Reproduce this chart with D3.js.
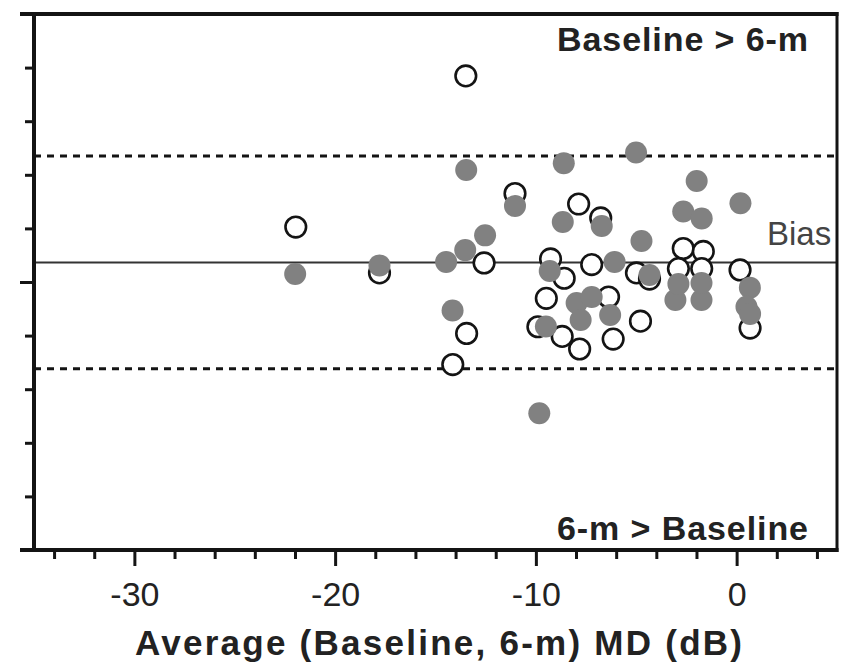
<!DOCTYPE html>
<html>
<head>
<meta charset="utf-8">
<script src="https://cdn.jsdelivr.net/npm/d3@7"></script>
<style>
  html, body { margin: 0; padding: 0; background: #fff; }
  svg { display: block; }
</style>
</head>
<body>
<svg id="chart" width="841" height="668"></svg>
<script>
// ---- data (x = average MD in dB, y = difference) ----
const openX = [-13.49, -21.96, -17.79, -12.58, -13.45, -14.14, -11.04, -7.87, -9.27, -8.59, -9.48, -9.90, -8.69, -7.82, -7.22, -6.38, -6.15, -4.79, -6.77, -4.99, -4.34, -2.66, -1.66, -2.90, -1.74, 0.17, 0.67];
const openY = [7.69, 2.05, 0.34, 0.71, -1.92, -3.08, 3.30, 2.91, 0.86, 0.14, -0.61, -1.67, -2.03, -2.50, 0.65, -0.56, -2.13, -1.46, 2.39, 0.34, 0.11, 1.25, 1.14, 0.50, 0.50, 0.45, -1.72];
const filledX = [-21.99, -17.79, -14.47, -13.52, -12.53, -13.47, -8.61, -11.04, -5.01, -8.66, -6.72, -4.74, -1.99, -2.66, -1.74, 0.19, -9.83, -14.15, -9.31, -7.97, -7.22, -7.77, -6.30, -9.50, -6.08, -4.34, -3.05, -1.75, -2.90, -1.75, 0.66, 0.49, 0.67];
const filledY = [0.30, 0.62, 0.75, 1.19, 1.74, 4.18, 4.43, 2.84, 4.83, 2.24, 2.09, 1.53, 3.77, 2.63, 2.37, 2.94, -4.90, -1.06, 0.41, -0.78, -0.56, -1.42, -1.23, -1.66, 0.75, 0.26, -0.67, -0.67, -0.07, -0.04, -0.21, -0.92, -1.19];
const bias = 0.73;
const upperLoA = 4.70;
const lowerLoA = -3.24;
const xMajorTicks = [-30, -20, -10, 0];
const xMinorTicks = [-34, -32, -28, -26, -24, -22, -18, -16, -14, -12, -8, -6, -4, -2, 2, 4];
const yMajorTicks = [-10, 0, 10];
const yMinorTicks = [-8, -6, -4, -2, 2, 4, 6, 8];
const xTitle = "Average (Baseline, 6-m) MD (dB)";
const topNote = "Baseline > 6-m";
const bottomNote = "6-m > Baseline";
const biasLabel = "Bias";

// ---- layout ----
const svg = d3.select("#chart");
const x = d3.scaleLinear().domain([-35, 5]).range([34, 837]);
const y = d3.scaleLinear().domain([-10, 10]).range([550, 14]);
const FONT = "'Liberation Sans', Arial, Helvetica, sans-serif";
const INK = "#141414";

// reference lines
svg.append("line")
  .attr("x1", x(-35)).attr("x2", x(5))
  .attr("y1", y(bias)).attr("y2", y(bias))
  .attr("stroke", "#333").attr("stroke-width", 2);
[upperLoA, lowerLoA].forEach(v => {
  svg.append("line")
    .attr("x1", x(-35)).attr("x2", x(5))
    .attr("y1", y(v)).attr("y2", y(v))
    .attr("stroke", INK).attr("stroke-width", 3)
    .attr("stroke-dasharray", "7,6");
});

// points: open first, filled on top
svg.append("g").selectAll("circle")
  .data(openX.map((v, i) => [v, openY[i]]))
  .join("circle")
  .attr("cx", d => x(d[0])).attr("cy", d => y(d[1]))
  .attr("r", 10.3)
  .attr("fill", "#fff").attr("stroke", INK).attr("stroke-width", 2.6);

svg.append("g").selectAll("circle")
  .data(filledX.map((v, i) => [v, filledY[i]]))
  .join("circle")
  .attr("cx", d => x(d[0])).attr("cy", d => y(d[1]))
  .attr("r", 11)
  .attr("fill", "#818181");

// axes
function styleAxis(g) {
  g.select(".domain").remove();
  g.selectAll(".tick line").attr("stroke", INK).attr("stroke-width", 3);
}
const gxMinor = svg.append("g").attr("transform", `translate(0,${y(-10)})`)
  .call(d3.axisBottom(x).tickValues(xMinorTicks).tickSize(9).tickFormat(""));
styleAxis(gxMinor);
const gxMajor = svg.append("g").attr("transform", `translate(0,${y(-10)})`)
  .call(d3.axisBottom(x).tickValues(xMajorTicks).tickSize(16).tickPadding(16)
    .tickFormat(d3.format("d")));
styleAxis(gxMajor);
gxMajor.selectAll(".tick text")
  .attr("font-family", FONT).attr("font-size", 34).attr("fill", "#222")
  .text(d => String(d).replace("\u2212", "-"));

const gyMinor = svg.append("g").attr("transform", `translate(${x(-35)},0)`)
  .call(d3.axisLeft(y).tickValues(yMinorTicks).tickSize(9).tickFormat(""));
styleAxis(gyMinor);
const gyMajor = svg.append("g").attr("transform", `translate(${x(-35)},0)`)
  .call(d3.axisLeft(y).tickValues(yMajorTicks).tickSize(14).tickFormat(""));
styleAxis(gyMajor);

// frame
svg.append("line").attr("x1", x(-35) - 14).attr("x2", x(5) + 1.5)
  .attr("y1", y(10)).attr("y2", y(10)).attr("stroke", INK).attr("stroke-width", 4);
svg.append("line").attr("x1", x(-35) - 14).attr("x2", x(5) + 1.5)
  .attr("y1", y(-10)).attr("y2", y(-10)).attr("stroke", INK).attr("stroke-width", 4);
svg.append("line").attr("x1", x(-35)).attr("x2", x(-35))
  .attr("y1", y(10) - 2).attr("y2", y(-10) + 2).attr("stroke", INK).attr("stroke-width", 4);
svg.append("line").attr("x1", x(5)).attr("x2", x(5))
  .attr("y1", y(10) - 2).attr("y2", y(-10) + 2).attr("stroke", INK).attr("stroke-width", 3);

// texts
svg.append("text").text(topNote)
  .attr("x", 808).attr("y", 51).attr("text-anchor", "end")
  .attr("font-family", FONT).attr("font-weight", "bold").attr("font-size", 34)
  .attr("textLength", 251).attr("lengthAdjust", "spacing").attr("fill", "#222");
svg.append("text").text(bottomNote)
  .attr("x", 808).attr("y", 540).attr("text-anchor", "end")
  .attr("font-family", FONT).attr("font-weight", "bold").attr("font-size", 34)
  .attr("textLength", 251).attr("lengthAdjust", "spacing").attr("fill", "#222");
svg.append("text").text(biasLabel)
  .attr("x", 767).attr("y", 245)
  .attr("font-family", FONT).attr("font-size", 33).attr("fill", "#444");
svg.append("text").text(xTitle)
  .attr("x", (x(-35) + x(5)) / 2 + 3).attr("y", 655).attr("text-anchor", "middle")
  .attr("font-family", FONT).attr("font-weight", "bold").attr("font-size", 35)
  .attr("textLength", 607).attr("lengthAdjust", "spacing").attr("fill", "#222");
</script>
</body>
</html>
